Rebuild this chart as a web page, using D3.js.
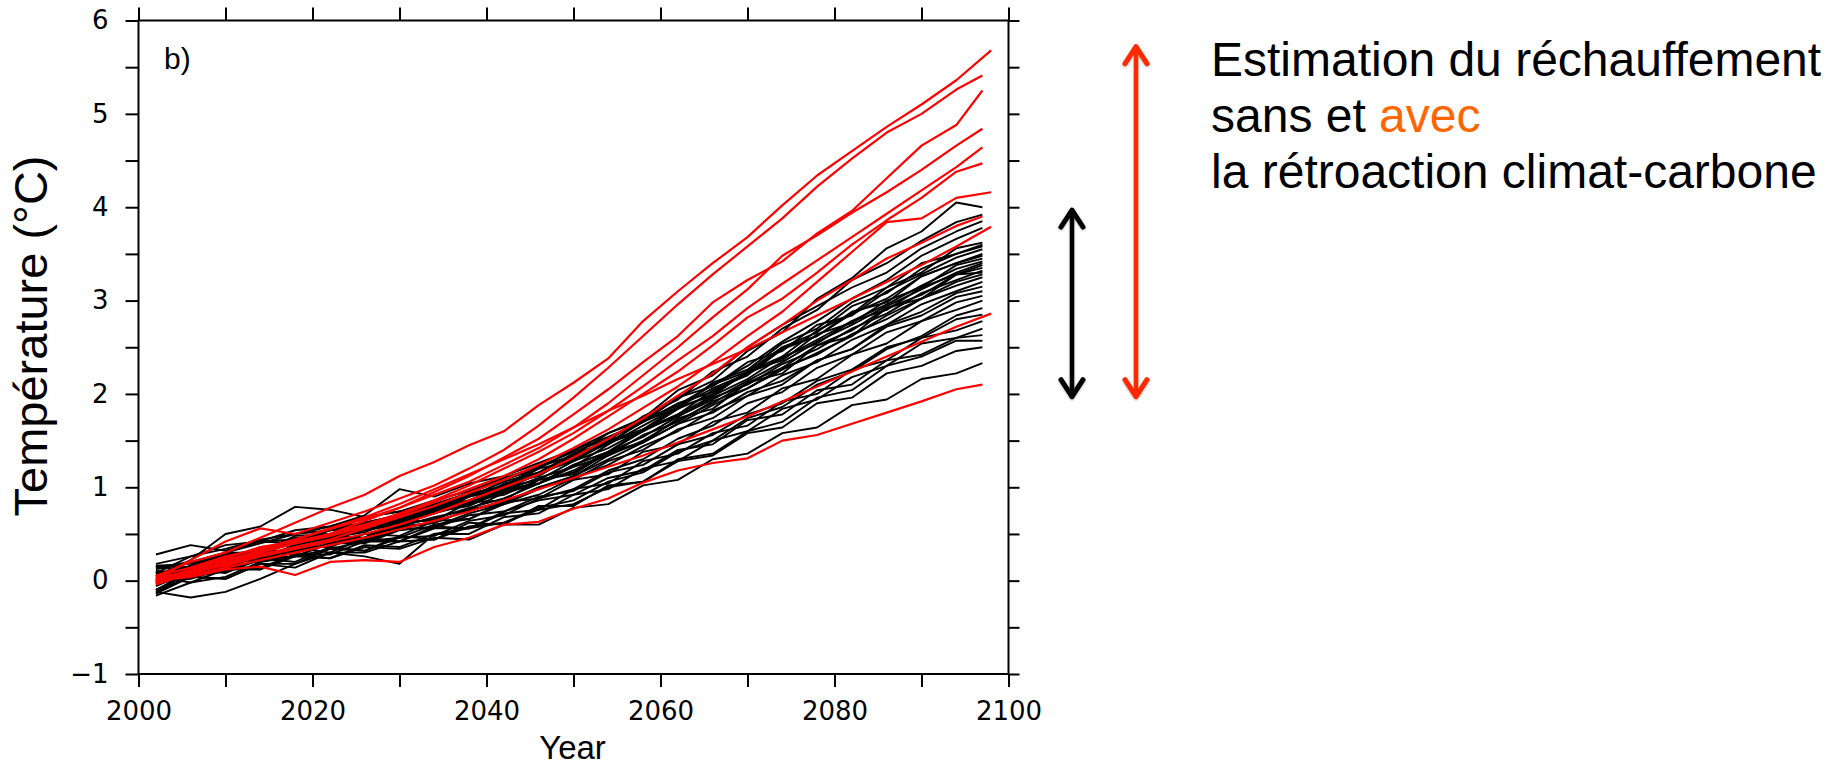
<!DOCTYPE html>
<html>
<head>
<meta charset="utf-8">
<script src="https://cdn.jsdelivr.net/npm/d3@7"></script>
<style>
  body { margin: 0; background: #fff; }
  svg { display: block; }
</style>
</head>
<body>
<svg id="chart" width="1839" height="768"></svg>
<script>
// Sample years shared by every model run
const years = [2002,2006,2010,2014,2018,2022,2026,2030,2034,2038,2042,2046,2050,2054,2058,2062,2066,2070,2074,2078,2082,2086,2090,2094,2097];

// Warming (°C) without climate-carbon feedback, one row per model run
const runsWithout = [
  [0.05,0.16,0.28,0.30,0.44,0.50,0.58,0.66,0.80,0.86,1.02,1.14,1.30,1.52,1.70,1.96,2.14,2.46,2.66,3.02,3.24,3.56,3.74,4.05,4.00],
  [-0.02,0.10,0.20,0.30,0.40,0.46,0.58,0.64,0.72,0.90,0.98,1.14,1.34,1.50,1.76,1.94,2.24,2.40,2.70,2.90,3.22,3.40,3.64,3.84,3.92],
  [0.14,0.20,0.30,0.42,0.40,0.56,0.62,0.70,0.82,0.94,1.08,1.20,1.40,1.58,1.74,2.04,2.20,2.50,2.74,2.94,3.14,3.30,3.56,3.74,3.85],
  [-0.10,0.08,0.16,0.26,0.36,0.44,0.54,0.60,0.72,0.82,0.96,1.10,1.22,1.46,1.66,1.86,2.10,2.30,2.56,2.78,3.02,3.22,3.48,3.66,3.78],
  [0.02,0.06,0.20,0.24,0.38,0.46,0.52,0.66,0.74,0.90,1.00,1.16,1.28,1.48,1.60,1.84,2.00,2.24,2.40,2.68,2.86,3.14,3.30,3.56,3.62],
  [0.08,0.26,0.34,0.44,0.50,0.58,0.68,0.74,0.80,0.90,1.06,1.16,1.36,1.48,1.70,1.86,2.06,2.22,2.50,2.66,2.94,3.08,3.34,3.50,3.58],
  [0.16,0.18,0.30,0.40,0.50,0.54,0.62,0.70,0.76,0.92,1.02,1.22,1.34,1.58,1.72,1.96,2.08,2.34,2.46,2.74,2.84,3.10,3.28,3.46,3.55],
  [-0.14,0.04,0.10,0.22,0.30,0.40,0.46,0.58,0.68,0.76,0.94,1.04,1.24,1.38,1.62,1.78,2.04,2.20,2.48,2.62,2.88,2.98,3.26,3.40,3.50],
  [0.05,0.22,0.50,0.58,0.79,0.76,0.68,0.74,0.86,0.96,1.10,1.22,1.38,1.52,1.72,1.88,2.10,2.24,2.50,2.62,2.86,3.02,3.26,3.40,3.48],
  [0.00,0.14,0.20,0.36,0.38,0.54,0.58,0.72,0.78,0.94,1.00,1.20,1.28,1.50,1.62,1.86,1.98,2.24,2.36,2.64,2.76,3.00,3.14,3.38,3.45],
  [0.18,0.26,0.38,0.42,0.54,0.58,0.70,0.98,0.90,1.04,1.12,1.26,1.40,1.54,1.70,1.90,2.02,2.22,2.38,2.58,2.78,2.96,3.16,3.34,3.42],
  [-0.06,0.10,0.12,0.28,0.32,0.42,0.46,0.60,0.66,0.78,0.88,1.04,1.18,1.38,1.54,1.76,1.94,2.14,2.34,2.56,2.74,2.94,3.12,3.30,3.40],
  [0.08,0.10,0.26,0.28,0.42,0.44,0.56,0.60,0.74,0.80,0.96,1.04,1.24,1.38,1.60,1.78,1.98,2.16,2.40,2.54,2.78,2.90,3.14,3.28,3.38],
  [-0.16,-0.02,0.04,0.20,0.26,0.40,0.42,0.56,0.62,0.76,0.82,1.00,1.12,1.34,1.50,1.72,1.90,2.12,2.28,2.52,2.68,2.92,3.06,3.28,3.35],
  [0.10,0.08,0.26,0.30,0.46,0.46,0.60,0.62,0.76,0.84,1.00,1.08,1.28,1.42,1.62,1.76,1.96,2.10,2.32,2.48,2.70,2.86,3.08,3.22,3.32],
  [-0.04,0.06,0.10,0.24,0.26,0.40,0.40,0.54,0.58,0.72,0.82,0.98,1.12,1.30,1.48,1.68,1.88,2.06,2.26,2.44,2.62,2.84,3.02,3.20,3.28],
  [0.14,0.12,0.28,0.32,0.44,0.42,0.58,0.62,0.78,0.82,0.98,1.04,1.22,1.34,1.56,1.70,1.92,2.06,2.28,2.42,2.64,2.80,3.02,3.16,3.25],
  [0.04,-0.02,0.12,0.12,0.28,0.28,0.42,0.46,0.60,0.66,0.82,0.92,1.10,1.24,1.44,1.60,1.82,1.98,2.20,2.34,2.58,2.74,2.96,3.10,3.20],
  [-0.02,0.12,0.14,0.30,0.32,0.46,0.44,0.58,0.62,0.76,0.84,1.00,1.08,1.28,1.40,1.62,1.74,1.98,2.10,2.36,2.48,2.74,2.88,3.08,3.15],
  [0.28,0.38,0.32,0.42,0.44,0.54,0.58,0.70,0.72,0.86,0.92,1.08,1.16,1.36,1.48,1.68,1.80,2.02,2.14,2.36,2.48,2.72,2.84,3.04,3.10],
  [-0.10,0.04,0.02,0.18,0.18,0.34,0.32,0.46,0.48,0.64,0.70,0.88,0.98,1.18,1.30,1.52,1.66,1.90,2.02,2.28,2.42,2.66,2.78,2.98,3.05],
  [0.08,0.06,0.24,0.22,0.36,0.36,0.50,0.48,0.64,0.66,0.84,0.88,1.08,1.14,1.38,1.46,1.70,1.80,2.06,2.16,2.42,2.54,2.78,2.90,3.00],
  [-0.12,-0.18,-0.12,0.02,0.18,0.30,0.30,0.42,0.44,0.58,0.62,0.78,0.86,1.06,1.16,1.38,1.50,1.74,1.86,2.10,2.24,2.48,2.62,2.84,2.92],
  [0.12,0.20,0.18,0.34,0.30,0.46,0.42,0.56,0.56,0.70,0.74,0.90,0.96,1.16,1.24,1.46,1.56,1.78,1.90,2.14,2.26,2.50,2.60,2.80,2.85],
  [-0.04,0.06,0.12,0.22,0.26,0.34,0.42,0.42,0.56,0.56,0.72,0.76,0.98,1.04,1.28,1.36,1.58,1.66,1.92,2.00,2.26,2.36,2.60,2.68,2.78],
  [-0.12,0.04,0.02,0.18,0.14,0.30,0.26,0.18,0.50,0.50,0.68,0.72,0.92,0.98,1.20,1.28,1.50,1.60,1.84,1.94,2.18,2.30,2.54,2.60,2.70],
  [0.10,0.08,0.24,0.20,0.36,0.30,0.46,0.42,0.58,0.56,0.74,0.86,0.92,1.10,1.18,1.40,1.46,1.72,1.78,2.04,2.10,2.36,2.42,2.60,2.63],
  [-0.02,0.12,0.08,0.24,0.20,0.36,0.32,0.48,0.44,0.62,0.60,0.80,0.80,1.02,1.06,1.30,1.36,1.60,1.70,1.96,2.04,2.30,2.40,2.57,2.57],
  [0.00,0.02,0.14,0.14,0.28,0.24,0.38,0.36,0.50,0.56,0.62,0.76,0.82,1.00,1.06,1.28,1.34,1.58,1.64,1.90,1.96,2.22,2.30,2.46,2.50],
  [0.04,0.04,0.16,0.12,0.26,0.24,0.36,0.34,0.46,0.44,0.60,0.60,0.78,0.82,1.02,1.08,1.30,1.36,1.58,1.64,1.88,1.94,2.16,2.22,2.33],
  [0.16,0.14,0.30,0.30,0.48,0.50,0.62,0.64,0.80,0.84,1.04,1.12,1.34,1.46,1.72,1.84,2.12,2.26,2.54,2.70,2.98,3.14,3.40,3.50,3.60],
  [-0.10,0.10,0.12,0.30,0.28,0.48,0.46,0.64,0.64,0.84,0.86,1.08,1.14,1.38,1.48,1.74,1.84,2.12,2.22,2.52,2.62,2.92,3.02,3.28,3.30]
];

// Warming (°C) with climate-carbon feedback, one row per model run
const runsWith = [
  [0.05,0.20,0.30,0.46,0.62,0.78,0.92,1.12,1.27,1.45,1.60,1.88,2.12,2.38,2.78,3.10,3.40,3.68,4.02,4.34,4.60,4.86,5.10,5.36,5.68],
  [0.02,0.22,0.42,0.56,0.50,0.62,0.74,0.88,1.02,1.20,1.40,1.66,1.96,2.28,2.62,2.96,3.28,3.58,3.88,4.22,4.52,4.80,5.00,5.26,5.41],
  [0.00,0.12,0.24,0.36,0.42,0.50,0.64,0.78,0.95,1.12,1.32,1.52,1.78,2.05,2.34,2.62,2.98,3.22,3.42,3.72,3.96,4.31,4.66,4.88,5.25],
  [0.05,0.14,0.26,0.34,0.44,0.55,0.66,0.78,0.92,1.06,1.24,1.42,1.64,1.90,2.20,2.50,2.82,3.12,3.48,3.70,3.94,4.16,4.40,4.66,4.84],
  [-0.02,0.08,0.18,0.30,0.40,0.50,0.60,0.72,0.86,1.02,1.20,1.38,1.58,1.82,2.08,2.36,2.62,2.92,3.18,3.43,3.68,3.93,4.18,4.43,4.64],
  [0.03,0.10,0.22,0.32,0.40,0.48,0.58,0.70,0.84,0.98,1.12,1.30,1.52,1.76,2.00,2.24,2.52,2.82,3.02,3.30,3.60,3.86,4.10,4.38,4.47],
  [0.00,0.08,0.18,0.28,0.36,0.44,0.56,0.68,0.80,0.94,1.08,1.24,1.42,1.62,1.85,2.08,2.34,2.62,2.88,3.20,3.52,3.84,3.88,4.10,4.16],
  [0.02,0.10,0.16,0.26,0.34,0.42,0.50,0.60,0.72,0.86,1.00,1.14,1.32,1.52,1.74,1.98,2.22,2.50,2.74,3.00,3.22,3.45,3.62,3.80,3.90],
  [-0.04,0.08,0.20,0.32,0.44,0.56,0.68,0.82,0.98,1.14,1.30,1.46,1.64,1.82,1.98,2.16,2.32,2.48,2.66,2.84,3.02,3.20,3.38,3.58,3.79],
  [0.00,0.06,0.14,0.22,0.30,0.38,0.46,0.55,0.64,0.74,0.86,0.98,1.10,1.22,1.34,1.48,1.62,1.76,1.92,2.08,2.24,2.40,2.56,2.72,2.86],
  [0.00,0.04,0.12,0.15,0.06,0.20,0.22,0.20,0.36,0.46,0.60,0.63,0.77,0.88,1.05,1.18,1.26,1.31,1.50,1.56,1.68,1.80,1.92,2.05,2.10]
];
// Final year of each feedback run (some runs go one year further)
const runsWithLastYear = [2098,2097,2097,2097,2097,2097,2098,2097,2098,2098,2097];

const xTickYears = d3.range(2000, 2101, 10);
const xLabelYears = [2000, 2020, 2040, 2060, 2080, 2100];
const yTickValues = d3.range(-1, 6.01, 0.5);
const yLabelValues = [-1, 0, 1, 2, 3, 4, 5, 6];

// Warming ranges marked by the two arrows (°C)
const rangeWithout = [1.97, 3.97];
const rangeWith = [1.97, 5.72];

const svg = d3.select("#chart");
const plot = { left: 138.5, right: 1008.5, top: 20.5, bottom: 674 };

const x = d3.scaleLinear().domain([2000, 2100]).range([plot.left, plot.right]);
const y = d3.scaleLinear().domain([-1, 6]).range([plot.bottom, plot.top]);

const tickFont = "'DejaVu Sans', sans-serif";
const textFont = "'Liberation Sans', Arial, sans-serif";

// Soft shadow used by the range arrows
const defs = svg.append("defs");
defs.append("filter").attr("id", "soft").attr("x", "-50%").attr("y", "-10%").attr("width", "200%").attr("height", "120%")
  .append("feDropShadow").attr("dx", 0).attr("dy", 1).attr("stdDeviation", 1.3).attr("flood-color", "#000").attr("flood-opacity", 0.3);

// Model runs
const line = d3.line().x(d => x(d[0])).y(d => y(d[1]));
const gRuns = svg.append("g").attr("fill", "none").attr("stroke-linejoin", "round");

gRuns.selectAll("path.without").data(runsWithout).join("path")
  .attr("class", "without")
  .attr("stroke", "#000")
  .attr("stroke-width", 1.9)
  .attr("d", vals => line(vals.map((v, i) => [years[i], v])));

gRuns.selectAll("path.with").data(runsWith).join("path")
  .attr("class", "with")
  .attr("stroke", "#ff0000")
  .attr("stroke-width", 2.2)
  .attr("d", (vals, k) => line(vals.map((v, i) => [i === years.length - 1 ? runsWithLastYear[k] : years[i], v])));

// Axes
const fmtY = d3.format("d");
const axisStyle = g => {
  g.select(".domain").remove();
  g.selectAll(".tick line").attr("stroke", "#000").attr("stroke-width", 2);
  g.selectAll(".tick text").attr("fill", "#000").style("font-family", tickFont).style("font-size", "26px");
};

svg.append("g").attr("transform", `translate(${plot.left},0)`)
  .call(d3.axisLeft(y).tickValues(yTickValues).tickSize(13).tickPadding(17)
    .tickFormat(d => yLabelValues.includes(d) ? fmtY(d) : ""))
  .call(axisStyle);

svg.append("g").attr("transform", `translate(${plot.right},0)`)
  .call(d3.axisRight(y).tickValues(yTickValues).tickSize(11).tickFormat(""))
  .call(axisStyle);

svg.append("g").attr("transform", `translate(0,${plot.bottom})`)
  .call(d3.axisBottom(x).tickValues(xTickYears).tickSize(13).tickPadding(15)
    .tickFormat(d => xLabelYears.includes(d) ? String(d) : ""))
  .call(axisStyle);

svg.append("g").attr("transform", `translate(0,${plot.top})`)
  .call(d3.axisTop(x).tickValues(xTickYears).tickSize(13).tickFormat(""))
  .call(axisStyle);

// Frame
svg.append("rect")
  .attr("x", plot.left).attr("y", plot.top)
  .attr("width", plot.right - plot.left).attr("height", plot.bottom - plot.top)
  .attr("fill", "none").attr("stroke", "#000").attr("stroke-width", 2);

// Panel letter
svg.append("text").attr("x", 164).attr("y", 69)
  .style("font-family", textFont).style("font-size", "30px").text("b)");

// Axis titles
svg.append("text")
  .attr("transform", "translate(47,336) rotate(-90)")
  .attr("text-anchor", "middle")
  .style("font-family", textFont).style("font-size", "47px")
  .text("Température (°C)");

svg.append("text")
  .attr("x", (plot.left + plot.right) / 2 - 1).attr("y", 759)
  .attr("text-anchor", "middle")
  .style("font-family", textFont).style("font-size", "33px")
  .text("Year");

// Range arrows
const arrows = [
  { x: 1072, range: rangeWithout, color: "#000000" },
  { x: 1136, range: rangeWith, color: "#ff2a00" }
];
const head = 11, headH = 17;
const gArrows = svg.append("g").attr("filter", "url(#soft)").attr("fill", "none")
  .attr("stroke-linecap", "round").attr("stroke-linejoin", "round");
arrows.forEach(a => {
  const yTop = y(a.range[1]), yBot = y(a.range[0]);
  const g = gArrows.append("g").attr("stroke", a.color);
  g.append("line").attr("x1", a.x).attr("x2", a.x).attr("y1", yTop + 1).attr("y2", yBot - 1).attr("stroke-width", 4.5);
  g.append("path").attr("stroke-width", 5)
    .attr("d", `M${a.x - head},${yTop + headH} L${a.x},${yTop} L${a.x + head},${yTop + headH}`);
  g.append("path").attr("stroke-width", 5)
    .attr("d", `M${a.x - head},${yBot - headH} L${a.x},${yBot} L${a.x + head},${yBot - headH}`);
});

// Caption
const caption = svg.append("text")
  .style("font-family", textFont).style("font-size", "48px").attr("fill", "#000");
caption.append("tspan").attr("x", 1211).attr("y", 76).text("Estimation du réchauffement");
const l2 = caption.append("tspan").attr("x", 1211).attr("y", 132);
l2.append("tspan").text("sans et ");
l2.append("tspan").attr("fill", "#ff6600").text("avec");
caption.append("tspan").attr("x", 1211).attr("y", 188).text("la rétroaction climat-carbone");
</script>
</body>
</html>
